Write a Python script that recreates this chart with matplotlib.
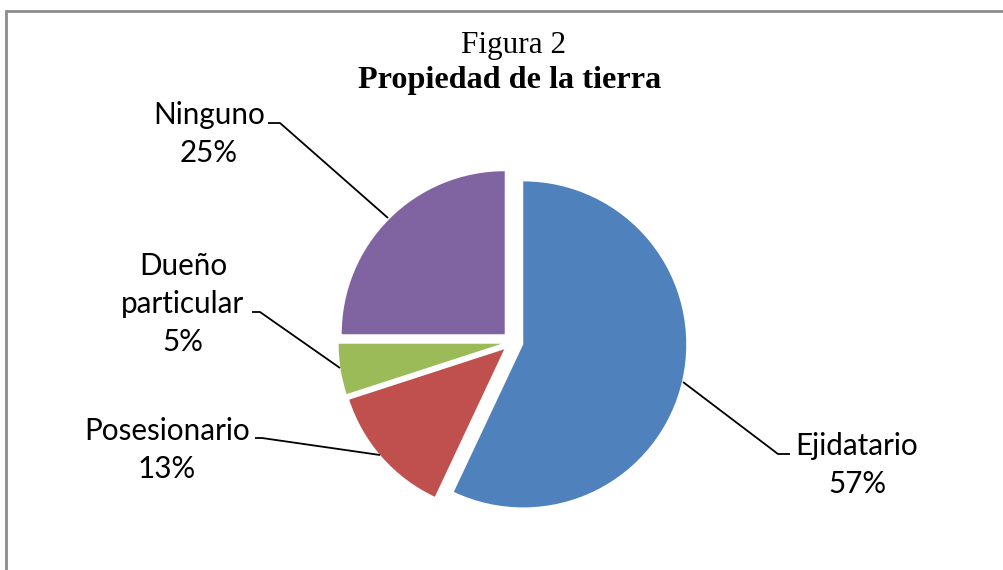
import matplotlib
matplotlib.use("Agg")
import matplotlib.pyplot as plt
from matplotlib.patches import Rectangle

categories = ["Ejidatario", "Posesionario", "Dueño particular", "Ninguno"]
values = [57, 13, 5, 25]
pct_labels = ["57%", "13%", "5%", "25%"]
colors = ["#4F81BD", "#C0504D", "#9BBB59", "#8064A2"]

W, H = 1004, 570
fig = plt.figure(figsize=(W / 100, H / 100), dpi=100)
ax = fig.add_axes([0, 0, 1, 1])

def Y(py):
    return H - py

# pie (explode is in data units = pixels here)
ax.pie(values, colors=colors, startangle=90, counterclock=False,
       center=(512.5, Y(342)), radius=163, explode=[11] * len(values),
       wedgeprops=dict(linewidth=0), frame=True)
ax.set_xlim(0, W)
ax.set_ylim(0, H)
ax.set_aspect("equal")
ax.axis("off")

# chart border
ax.add_patch(Rectangle((6.5, -20), W + 20, Y(10.5) + 20, fill=False,
                       edgecolor="#8c8c8c", linewidth=2))

lab_font = dict(family=["Lato", "DejaVu Sans"], fontsize=21.3, color="#000000")

label_layout = {
    "Ninguno": (209, 134),
    "Dueño particular": (183, 304),
    "Posesionario": (167, 450),
    "Ejidatario": (857, 465),
}
label_names = {
    "Ninguno": "Ninguno",
    "Dueño particular": "Dueño\nparticular",
    "Posesionario": "Posesionario",
    "Ejidatario": "Ejidatario",
}
for cat, pct in zip(categories, pct_labels):
    x, y = label_layout[cat]
    ax.text(x, Y(y), label_names[cat] + "\n" + pct,
            ha="center", va="center", linespacing=1.42, **lab_font)

leaders = {
    "Ninguno": [(268, 123), (280, 123), (388, 218)],
    "Dueño particular": [(252, 312), (260, 312), (340, 368)],
    "Posesionario": [(255, 438), (262, 438), (380, 455)],
    "Ejidatario": [(683, 382), (778, 454), (790, 454)],
}
for cat in categories:
    pts = leaders[cat]
    ax.plot([p[0] for p in pts], [Y(p[1]) for p in pts], color="black",
            linewidth=1.3, solid_capstyle="butt")

ax.text(514, Y(53), "Figura 2", ha="center", va="baseline",
        family="Liberation Serif", fontsize=22.5)
ax.text(510, Y(88), "Propiedad de la tierra", ha="center", va="baseline",
        family="Liberation Serif", fontweight="bold", fontsize=23.2)

fig.savefig("out.png", dpi=100)
